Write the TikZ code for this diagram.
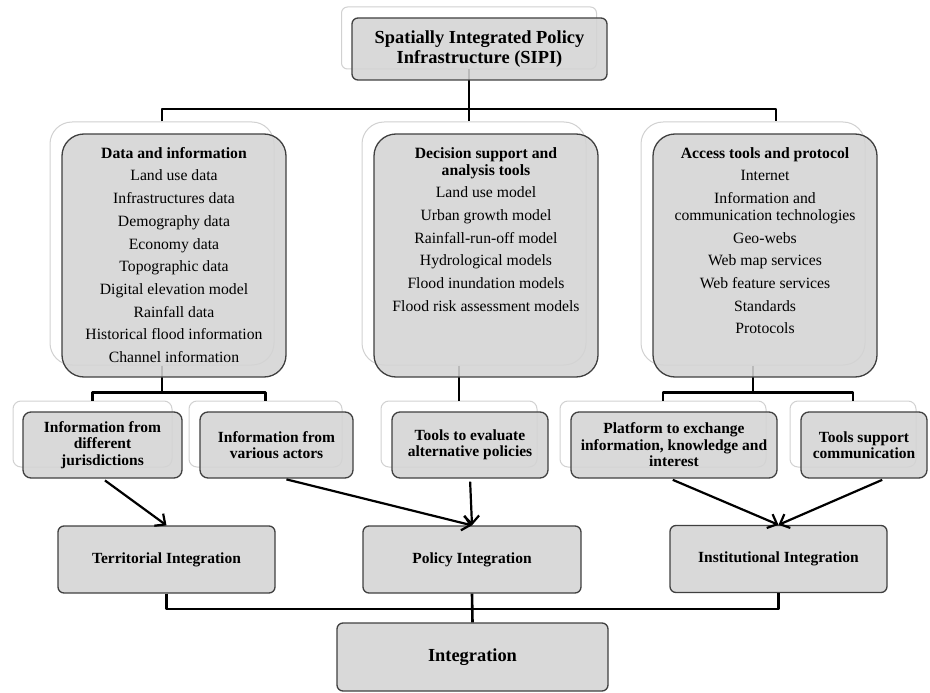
\documentclass[tikz,border=0pt]{standalone}
\usepackage{fontspec}
\setmainfont{Liberation Serif}
\usetikzlibrary{arrows.meta}

\begin{document}
\begin{tikzpicture}[x=1pt,y=-1pt,>={Straight Barb[length=8pt,width=15pt]},
                    line join=round]
\tikzstyle{front}=[draw=black!75,line width=1.3pt,fill=black!17,fill opacity=0.88,text opacity=1,
  rounded corners=8pt,inner sep=0pt,align=center,font=\bfseries\fontsize{15.5}{16.5}\selectfont]
\tikzstyle{back}=[draw=black!18,line width=1pt,fill=white,rounded corners=8pt,inner sep=0pt]
\tikzstyle{big}=[minimum width=224pt,minimum height=243pt,rounded corners=22pt]
\tikzstyle{small}=[minimum height=66pt]
\tikzstyle{level}=[front,minimum width=217pt,minimum height=67pt,rounded corners=6pt,
  font=\bfseries\fontsize{15.5}{17}\selectfont]
\tikzstyle{list}=[anchor=north,inner sep=0pt,align=center,font=\fontsize{15.7}{17}\selectfont]
\tikzstyle{conn}=[line width=2.6pt]
\tikzstyle{arr}=[->,line width=2.2pt,shorten <=3pt]
\useasboundingbox (0,0) rectangle (930,693);

\node[back,minimum width=255pt,minimum height=62pt,rounded corners=6pt] (sipib) at (469,38) {};
\node[back,big] (datab) at (162,243.5) {};
\node[back,big] (dssb) at (474,243.5) {};
\node[back,big] (accb) at (753,243.5) {};
\node[back,small,minimum width=159pt] (jurisb) at (92.5,434) {};
\node[back,small,minimum width=153pt] (actorsb) at (265.5,434) {};
\node[back,small,minimum width=156pt] (evalpb) at (459,434) {};
\node[back,small,minimum width=206pt] (platfb) at (663,434) {};
\node[back,small,minimum width=126pt] (commub) at (853,434) {};

\coordinate (busL) at (162,109);
\coordinate (busR) at (776,109);
\draw[conn] (sipib.south) -- (sipib.south |- dssb.north);
\draw[conn] (datab.north) -- (busL) -- (busR) -- (busR |- accb.north);
\draw[conn] (datab.south) -- ++(0,27) coordinate (dbus);
\draw[conn] (jurisb.north) |- (dbus) -| (actorsb.north);
\draw[conn] (dssb.south -| evalpb.north) -- (evalpb.north);
\draw[conn] (accb.south) -- ++(0,27) coordinate (abus);
\draw[conn] (platfb.north) |- (abus) -| (commub.north);

\node[front,minimum width=255pt,minimum height=62pt,rounded corners=6pt,
      font=\bfseries\fontsize{18.4}{20}\selectfont] (sipi) at (479.5,49)
      {Spatially Integrated Policy\\Infrastructure (SIPI)};
\node[front,big] (data) at (174,255.5) {};
\node[front,big] (dss) at (486,255.5) {};
\node[front,big] (acc) at (765,255.5) {};
\node[list] (datatxt) at (174,147) {\textbf{Data and information}\\[5.7pt]
  Land use data\\[5.7pt]Infrastructures data\\[5.7pt]Demography data\\[5.7pt]
  Economy data\\[5.7pt]Topographic data\\[5.7pt]Digital elevation model\\[5.7pt]
  Rainfall data\\[5.7pt]Historical flood information\\[5.7pt]Channel information};
\node[list] (dsstxt) at (486,147) {\textbf{Decision support and}\\\textbf{analysis tools}\\[5.7pt]
  Land use model\\[5.7pt]Urban growth model\\[5.7pt]Rainfall-run-off model\\[5.7pt]
  Hydrological models\\[5.7pt]Flood inundation models\\[5.7pt]Flood risk assessment models};
\node[list] (acctxt) at (765,147) {\textbf{Access tools and protocol}\\[5.7pt]
  Internet\\[5.7pt]Information and\\communication technologies\\[5.7pt]Geo-webs\\[5.7pt]
  Web map services\\[5.7pt]Web feature services\\[5.7pt]Standards\\[5.7pt]Protocols};

\node[front,small,minimum width=159pt] (juris) at (102.5,445) {Information from\\different\\jurisdictions};
\node[front,small,minimum width=153pt] (actors) at (276.5,445) {Information from\\various actors};
\node[front,small,minimum width=156pt] (evalp) at (470,445) {Tools to evaluate\\alternative policies};
\node[front,small,minimum width=206pt] (platf) at (674,445) {Platform to exchange\\information, knowledge and\\interest};
\node[front,small,minimum width=126pt] (commu) at (864,445) {Tools support\\communication};

\node[level] (terr) at (166.5,559.5) {Territorial Integration};
\node[level,minimum width=218pt] (polic) at (472,559.5) {Policy Integration};
\node[level] (inst) at (778.5,559) {Institutional Integration};
\node[level,minimum width=271pt,minimum height=68pt,
      font=\bfseries\fontsize{18.4}{20}\selectfont] (integ) at (472.5,657) {Integration};

\coordinate (ibus) at (472,609);
\draw[conn] (terr.south) |- (ibus) -| (inst.south);
\draw[conn] (polic.south) -- (integ.north);

\draw[arr] (juris.south) -- (terr.north);
\draw[arr] ([xshift=7pt]actors.south) -- (polic.north);
\draw[arr] (evalp.south) -- (polic.north);
\draw[arr] ([xshift=-4pt]platf.south) -- (inst.north);
\draw[arr] ([xshift=21pt]commu.south) -- (inst.north);
\end{tikzpicture}
\end{document}
